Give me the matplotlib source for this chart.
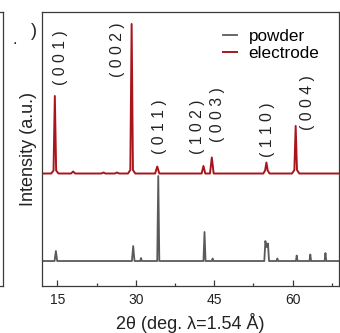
import matplotlib
matplotlib.use("Agg")
import matplotlib.pyplot as plt

plt.rcParams['font.family'] = ['Liberation Sans', 'DejaVu Sans']

# XRD patterns (2theta in deg, intensity in arbitrary units)
powder_2theta = [12.1, 14.45, 14.7, 14.95, 29.25, 29.5, 29.75, 30.85, 31.0, 31.15,
                 34.1, 34.3, 34.5, 42.95, 43.15, 43.35, 44.55, 44.7, 44.85,
                 54.6, 54.8, 55.05, 55.3, 55.5, 56.95, 57.1, 57.25,
                 60.65, 60.8, 60.95, 63.25, 63.4, 63.55, 66.15, 66.3, 66.45, 68.8]
powder_int = [25, 25, 35, 25, 25, 40, 25, 25, 28, 25,
              25, 110, 25, 25, 54, 25, 25, 27.5, 25,
              25, 45, 39, 42.5, 25, 25, 27.5, 25,
              25, 30.5, 25, 25, 31.5, 25, 25, 33, 25, 25]

electrode_2theta = [12.1, 13.8, 14.25, 14.5, 14.75, 15.2, 17.6, 18.0, 18.4,
                    23.4, 23.8, 24.2, 26.0, 26.4, 26.8,
                    28.5, 28.95, 29.2, 29.45, 29.9, 33.7, 34.1, 34.5,
                    42.6, 42.95, 43.3, 44.2, 44.55, 44.9,
                    54.4, 54.75, 55.0, 55.25, 55.6,
                    59.9, 60.35, 60.6, 60.85, 61.3, 68.8]
electrode_int = [112.5, 112.5, 115.5, 190, 115.5, 112.5, 112.5, 114.5, 112.5,
                 112.5, 113.5, 112.5, 112.5, 113.5, 112.5,
                 112.5, 116, 262, 116, 112.5, 112.5, 119.5, 112.5,
                 112.5, 120, 112.5, 112.5, 128.5, 112.5,
                 112.5, 115.5, 123.5, 115.5, 112.5,
                 112.5, 116, 160, 116, 112.5, 112.5]

peak_labels = ["( 0 0 1 )", "( 0 0 2 )", "( 0 1 1 )", "( 1 0 2 )",
               "( 0 0 3 )", "( 1 1 0 )", "( 0 0 4 )"]
label_x = [15.5, 26.4, 34.6, 41.9, 45.6, 55.15, 62.8]
label_y = [228, 236, 159, 159, 171, 156, 183]

xticks = [15, 30, 45, 60]

gray = "#5a5a5a"
red = "#a8151d"
spine_col = "#3a3a3a"

fig = plt.figure(figsize=(3.4, 3.33), dpi=100)
ax = fig.add_axes([0.1244, 0.1411, 0.8712, 0.8229])

ax.plot(powder_2theta, powder_int, color=gray, lw=1.3, label="powder")
ax.plot(electrode_2theta, electrode_int, color=red, lw=1.4, label="electrode")

for lab, x, y in zip(peak_labels, label_x, label_y):
    ax.text(x, y, lab, rotation=90, ha="center", va="center", fontsize=11.3, color="#222222")

ax.set_xlim(12.1, 68.8)
ax.set_ylim(0, 274)
ax.set_xticks(xticks)
ax.set_xticks([22.5, 37.5, 52.5, 67.5], minor=True)
ax.set_yticks([])
ax.tick_params(axis="x", direction="in", length=4, width=0.9, color=spine_col,
               labelsize=10, pad=5, labelcolor="#222222")
ax.tick_params(axis="x", which="minor", direction="in", length=2, width=0.9, color=spine_col)
for s in ax.spines.values():
    s.set_color(spine_col)
    s.set_linewidth(0.9)

ax.set_xlabel("2θ (deg. λ=1.54 Å)", fontsize=13, labelpad=4, color="#222222")
ax.set_ylabel("Intensity (a.u.)", fontsize=13, labelpad=4, color="#222222")

ax.legend(loc="upper left", bbox_to_anchor=(0.61, 0.937), frameon=False,
          fontsize=12.3, handlelength=0.8, handletextpad=0.7, labelspacing=0.1,
          borderpad=0, borderaxespad=0)

# remnant of neighbouring panel at the left edge
ax0 = fig.add_axes([-0.1, 0.1411, 0.109, 0.8229])
ax0.set_xticks([])
ax0.set_yticks([])
for s in ax0.spines.values():
    s.set_color(spine_col)
    s.set_linewidth(0.9)
fig.text(15 / 340, 1 - 40 / 333, ".", fontsize=12, ha="center", va="center", color="#222222")
fig.text(34 / 340, 1 - 31 / 333, ")", fontsize=13, ha="center", va="center", color="#222222")

fig.savefig("out.png", dpi=100)
